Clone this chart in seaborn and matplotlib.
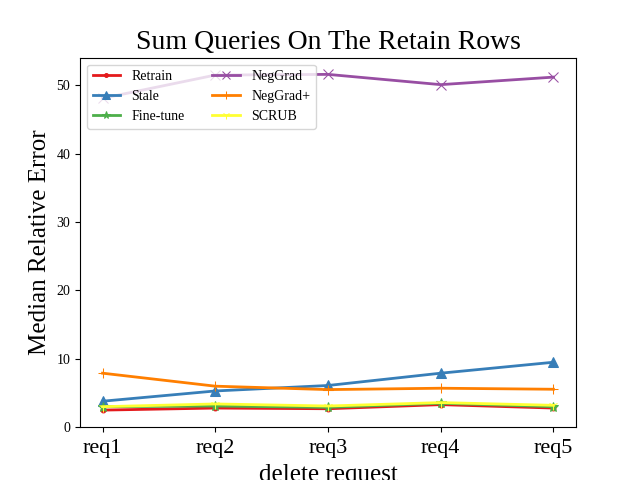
import matplotlib
matplotlib.use("Agg")
import matplotlib.pyplot as plt
import seaborn as sns
import pandas as pd

requests = ["req1", "req2", "req3", "req4", "req5"]
retrain = [2.5, 2.8, 2.7, 3.3, 2.8]
stale = [3.8, 5.3, 6.1, 7.9, 9.5]
fine_tune = [3.0, 3.1, 2.9, 3.5, 3.0]
neg_grad = [48.1, 51.5, 51.6, 50.1, 51.2]
neg_grad_plus = [7.9, 6.0, 5.5, 5.7, 5.55]
scrub = [3.0, 3.4, 3.1, 3.6, 3.2]

methods = ["Retrain", "Stale", "Fine-tune", "NegGrad", "NegGrad+", "SCRUB"]
series = [retrain, stale, fine_tune, neg_grad, neg_grad_plus, scrub]
markers = [".", "^", "*", "x", "+", "1"]


def main():
    rows = []
    for name, vals in zip(methods, series):
        for r, v in zip(requests, vals):
            rows.append({"request": r, "error": v, "method": name})
    data = pd.DataFrame(rows)

    plt.rcParams['font.family'] = ['Liberation Serif', 'DejaVu Serif']
    palette = sns.color_palette("Set1", 6)

    fig, ax = plt.subplots(figsize=(6.4, 4.8))
    for i, name in enumerate(methods):
        sub = data[data.method == name]
        sns.lineplot(x="request", y="error", data=sub, ax=ax, color=palette[i],
                     marker=markers[i], markersize=7, linewidth=2, label=name,
                     markeredgecolor=palette[i], sort=False)

    ax.set_ylim(bottom=0)
    ax.set_title("Sum Queries On The Retain Rows", fontsize=20)
    ax.set_xlabel("delete request", fontsize=18, labelpad=4)
    ax.set_ylabel("Median Relative Error", fontsize=18)
    ax.tick_params(axis="x", labelsize=16, pad=5)
    ax.tick_params(axis="y", labelsize=10)
    ax.legend(loc="upper left", ncol=2, fontsize=10, markerscale=0.8)
    fig.savefig("out.png", dpi=100)


if __name__ == '__main__':
    main()
